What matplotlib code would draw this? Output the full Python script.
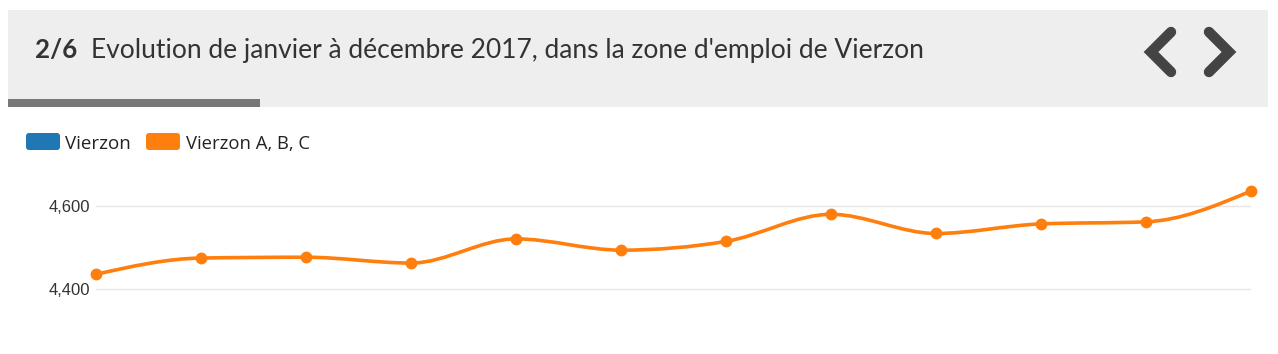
import matplotlib
matplotlib.use("Agg")
import matplotlib.pyplot as plt
from matplotlib.path import Path
from matplotlib.patches import PathPatch, FancyBboxPatch, Rectangle

# data (job seekers, jan -> dec 2017)
months = list(range(12))
values = [4436, 4475, 4477, 4463, 4521, 4494, 4515, 4580, 4534, 4557, 4562, 4636]
yticks = [4400, 4600]
legend_labels = ["Vierzon", "Vierzon A, B, C"]
legend_colors = ["#1f77b4", "#ff7f0e"]
title_num = "2/6"
title_text = "Evolution de janvier à décembre 2017, dans la zone d'emploi de Vierzon"

W, H = 1278, 354
fig = plt.figure(figsize=(W / 100, H / 100), dpi=100)
renderer = fig.canvas.get_renderer()


def fit_width(t, target):
    # scale the font so the text spans the target width in pixels
    bb = t.get_window_extent(renderer)
    t.set_fontsize(t.get_fontsize() * target / bb.width)


def monotone_path(xs, ys):
    """Bezier path of a monotone cubic through the points (like d3 curveMonotoneX)."""
    n = len(xs)
    s = [(ys[i + 1] - ys[i]) / (xs[i + 1] - xs[i]) for i in range(n - 1)]
    t = [0.0] * n
    for i in range(1, n - 1):
        h0 = xs[i] - xs[i - 1]
        h1 = xs[i + 1] - xs[i]
        p = (s[i - 1] * h1 + s[i] * h0) / (h0 + h1)
        sg = (1 if s[i - 1] > 0 else -1 if s[i - 1] < 0 else 0) + (1 if s[i] > 0 else -1 if s[i] < 0 else 0)
        t[i] = sg * min(abs(s[i - 1]), abs(s[i]), 0.5 * abs(p))
    t[0] = (3 * s[0] - t[1]) / 2
    t[-1] = (3 * s[-1] - t[-2]) / 2
    verts = [(xs[0], ys[0])]
    codes = [Path.MOVETO]
    for i in range(n - 1):
        dx = (xs[i + 1] - xs[i]) / 3
        verts += [(xs[i] + dx, ys[i] + dx * t[i]),
                  (xs[i + 1] - dx, ys[i + 1] - dx * t[i + 1]),
                  (xs[i + 1], ys[i + 1])]
        codes += [Path.CURVE4] * 3
    return Path(verts, codes)


# background layer in pixel coordinates
bg = fig.add_axes([0, 0, 1, 1])
bg.set_xlim(0, W)
bg.set_ylim(H, 0)
bg.axis("off")

bg.add_patch(Rectangle((8, 10), 1260, 97, color="#eeeeee", lw=0))
bg.add_patch(Rectangle((8, 99), 252, 8, color="#777777", lw=0))

# navigation chevrons
bg.plot([1171, 1151, 1171], [32, 52, 72], color="#444444", lw=7.5,
        solid_joinstyle="miter", solid_capstyle="round")
bg.plot([1209, 1229, 1209], [32, 52, 72], color="#444444", lw=7.5,
        solid_joinstyle="miter", solid_capstyle="round")

# title
t1 = bg.text(35, 58, title_num, fontsize=17, fontweight="bold", family="Lato",
             color="#333333", va="baseline")
fit_width(t1, 42)
t2 = bg.text(91, 58, title_text, fontsize=17, family="Lato", color="#333333",
             va="baseline")
fit_width(t2, 829)

# legend
sw_x = [26, 146]
txt_x = [65, 186]
txt_w = [65, 123]
for i, lab in enumerate(legend_labels):
    bg.add_patch(FancyBboxPatch((sw_x[i] + 2, 135), 30, 13,
                                boxstyle="round,pad=2,rounding_size=3",
                                fc=legend_colors[i], ec="none"))
    lt = bg.text(txt_x[i], 149, lab, fontsize=12, family="Open Sans",
                 color="#222222", va="baseline")
    fit_width(lt, txt_w[i])

# chart
top_px, bot_px = 150, 320
ax = fig.add_axes([96 / W, (H - bot_px) / H, (1251 - 96) / W, (bot_px - top_px) / H])
ax.patch.set_alpha(0)
ppu = (289.3 - 206) / 200.0
ax.set_ylim(4400 - (bot_px - 289.3) / ppu, 4400 + (289.3 - top_px) / ppu)
ax.set_xlim(months[0], months[-1])
for v in yticks:
    ax.axhline(v, color="#e6e6e6", lw=1, zorder=0)
ax.set_yticks(yticks)
ax.set_yticklabels([f"{v:,}" for v in yticks], family="Liberation Sans",
                   fontsize=12, color="#333333")
ax.set_xticks([])
ax.tick_params(axis="y", length=0, pad=4.5)
for sp in ax.spines.values():
    sp.set_visible(False)

ax.add_patch(PathPatch(monotone_path(months, values), fc="none",
                       ec="#ff7f0e", lw=2.6, clip_on=False, zorder=2))
ax.plot(months, values, "o", ms=7.5, color="#ff7f0e", clip_on=False, zorder=3)

fig.savefig("out.png", dpi=100)
